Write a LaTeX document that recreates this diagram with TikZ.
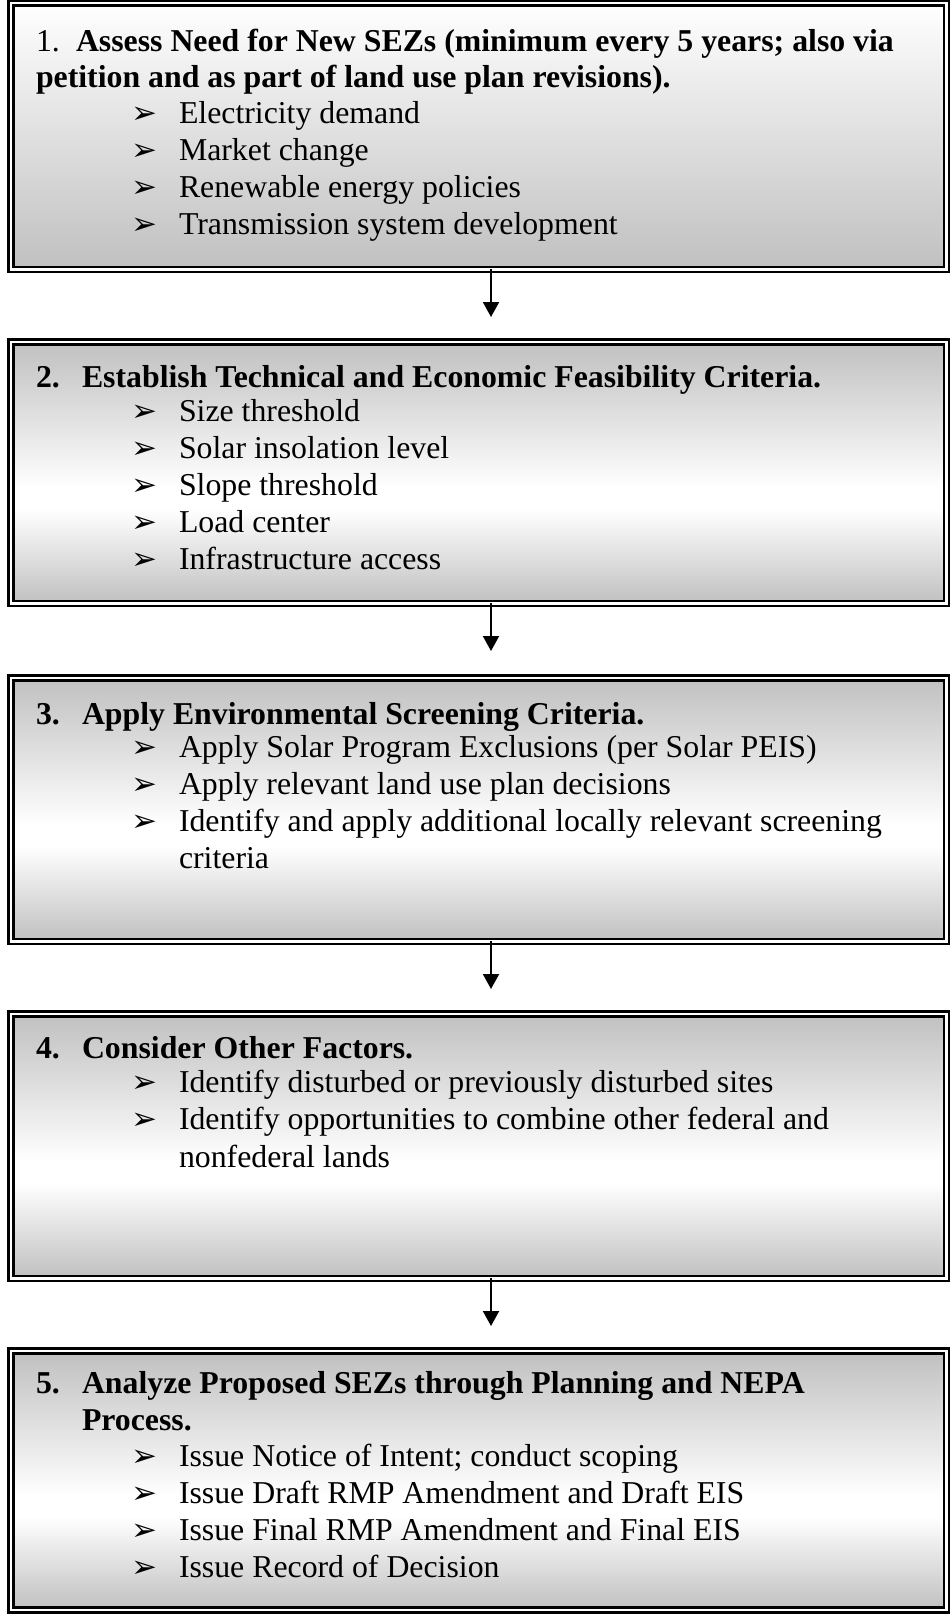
\documentclass[tikz,border=0pt]{standalone}
\usepackage{fontspec}
\setmainfont{Liberation Serif}
\newfontfamily\dejavu{DejaVu Sans}
\usetikzlibrary{arrows.meta}
\definecolor{sg}{RGB}{192,192,192}
\pgfdeclareverticalshading{boxshade}{100bp}{color(0bp)=(sg); color(25bp)=(sg); color(43bp)=(white); color(47bp)=(white); color(75bp)=(sg); color(100bp)=(sg)}
\newcommand\bitem[3]{\node[bmark] (#1m) at (131,-#2) {➢}; \node[txt] (#1) at (179,-#2) {#3};}
\begin{document}
\begin{tikzpicture}[x=1pt,y=1pt,
  frame/.style={rectangle, anchor=north west, inner sep=0, outer sep=0,
    minimum width=935.5pt, draw=black, line width=2.5pt, double=white,
    double distance=2.5pt, shade, shading=boxshade},
  txt/.style={anchor=base west, inner sep=0, outer sep=0, font=\fontsize{31.8}{37}\selectfont},
  hdr/.style={txt, font=\fontsize{31.8}{37}\selectfont\bfseries},
  bmark/.style={anchor=base west, inner sep=0, outer sep=0, font=\dejavu\fontsize{31}{31}\selectfont},
  arr/.style={line width=2pt, -{Triangle[length=15pt,width=16pt]}}]
\useasboundingbox (0,0) rectangle (951,-1614);
% boxes
\node[frame, minimum height=266.5pt, top color=white, bottom color=sg] (b1) at (10.75,-2.75) {};
\node[frame, minimum height=261.5pt] (b2) at (10.75,-341.75) {};
\node[frame, minimum height=263.5pt] (b3) at (10.75,-677.75) {};
\node[frame, minimum height=264.5pt] (b4) at (10.75,-1013.75) {};
\node[frame, minimum height=259pt] (b5) at (10.75,-1350.75) {};
% arrows
\coordinate (t1) at (491,-317);
\coordinate (t2) at (491,-651);
\coordinate (t3) at (491,-989);
\coordinate (t4) at (491,-1326);
\draw[arr] (b1.south -| t1) -- (t1);
\draw[arr] (b2.south -| t2) -- (t2);
\draw[arr] (b3.south -| t3) -- (t3);
\draw[arr] (b4.south -| t4) -- (t4);
% box 1
\node[txt] (h1n) at (36,-51) {1.};
\node[hdr] (h1a) at (76,-51) {Assess Need for New SEZs (minimum every 5 years; also via};
\node[hdr] (h1b) at (36,-87) {petition and as part of land use plan revisions).};
\bitem{i11}{123}{Electricity demand}
\bitem{i12}{160}{Market change}
\bitem{i13}{197}{Renewable energy policies}
\bitem{i14}{234}{Transmission system development}
% box 2
\node[hdr] (h2n) at (36,-387) {2.};
\node[hdr] (h2a) at (82,-387) {Establish Technical and Economic Feasibility Criteria.};
\bitem{i21}{421}{Size threshold}
\bitem{i22}{458}{Solar insolation level}
\bitem{i23}{495}{Slope threshold}
\bitem{i24}{532}{Load center}
\bitem{i25}{569}{Infrastructure access}
% box 3
\node[hdr] (h3n) at (36,-724) {3.};
\node[hdr] (h3a) at (82,-724) {Apply Environmental Screening Criteria.};
\bitem{i31}{757}{Apply Solar Program Exclusions (per Solar PEIS)}
\bitem{i32}{794}{Apply relevant land use plan decisions}
\bitem{i33}{831}{Identify and apply additional locally relevant screening}
\node[txt] (i33b) at (179,-868) {criteria};
% box 4
\node[hdr] (h4n) at (36,-1058) {4.};
\node[hdr] (h4a) at (82,-1058) {Consider Other Factors.};
\bitem{i41}{1092}{Identify disturbed or previously disturbed sites}
\bitem{i42}{1129}{Identify opportunities to combine other federal and}
\node[txt] (i42b) at (179,-1167) {nonfederal lands};
% box 5
\node[hdr] (h5n) at (36,-1393) {5.};
\node[hdr] (h5a) at (82,-1393) {Analyze Proposed SEZs through Planning and NEPA};
\node[hdr] (h5b) at (82,-1430) {Process.};
\bitem{i51}{1466}{Issue Notice of Intent; conduct scoping}
\bitem{i52}{1503}{Issue Draft RMP Amendment and Draft EIS}
\bitem{i53}{1540}{Issue Final RMP Amendment and Final EIS}
\bitem{i54}{1577}{Issue Record of Decision}
\end{tikzpicture}
\end{document}
